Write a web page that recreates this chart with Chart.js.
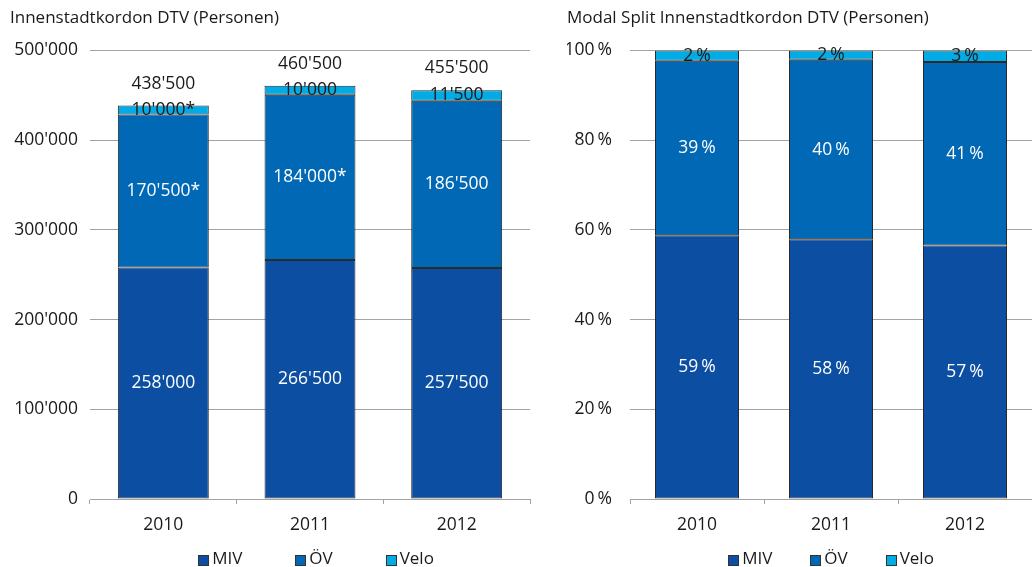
<!DOCTYPE html>
<html>
<head>
<meta charset="utf-8">
<script src="https://cdn.jsdelivr.net/npm/chart.js@4.4.1/dist/chart.umd.min.js"></script>
<style>
  body { margin: 0; background: #fff; }
  #wrap { position: relative; width: 1032px; height: 567px; font-family: "Open Sans", sans-serif; }
  .box { position: absolute; top: 0; height: 567px; }
  .legend { position: absolute; top: 545px; height: 24px; display: flex; justify-content: center; align-items: center; font-size: 17px; color: #1a1a1a; }
  .legend span.sw { display: inline-block; width: 9px; height: 9px; border: 1px solid #333; margin-right: 3px; position: relative; top: 2px; }
</style>
</head>
<body>
<div id="wrap">
  <div class="box" style="left:0;width:540px"><canvas id="chartLeft"></canvas></div>
  <div class="box" style="left:557px;width:475px"><canvas id="chartRight"></canvas></div>
  <div class="legend" id="legendLeft" style="left:96px;width:440px;gap:53px"></div>
  <div class="legend" id="legendRight" style="left:630px;width:402px;gap:38px"></div>
</div>
<script>
var years = ['2010', '2011', '2012'];
var seriesNames = ['MIV', 'ÖV', 'Velo'];
var seriesColors = ['#0b4ea2', '#0068b4', '#00abe6'];

// Personen pro Tag
var miv = [258000, 266500, 257500];
var oev = [170500, 184000, 186500];
var velo = [10000, 10000, 11500];
var totals = [438500, 460500, 455500];
// * = Schätzwert
var oevStar = [true, true, false];
var veloStar = [true, false, false];

// Modal Split in %
var mivShare = [58.8, 57.9, 56.5];
var oevShare = [38.9, 40.0, 40.9];
var veloShare = [2.3, 2.1, 2.6];

var yTicksLeft = [0, 100000, 200000, 300000, 400000, 500000];
var yTicksRight = [0, 20, 40, 60, 80, 100];

var FONT = '"Open Sans", sans-serif';
var GRID = '#a3a3a3';

function fmt(n) {
  return String(n).replace(/\B(?=(\d{3})+(?!\d))/g, "'");
}
function pct(n) {
  return Math.round(n) + '\u2009%';
}

var barLabels = {
  id: 'barLabels',
  afterDatasetsDraw: function(chart, args, opts) {
    var ctx = chart.ctx;
    ctx.save();
    ctx.font = '17.5px ' + FONT;
    ctx.textAlign = 'center';
    ctx.textBaseline = 'middle';
    chart.data.datasets.forEach(function(ds, i) {
      chart.getDatasetMeta(i).data.forEach(function(bar, j) {
        ctx.fillStyle = ds.labelColor;
        ctx.fillText(ds.labelText[j], bar.x, (bar.y + bar.base) / 2);
      });
    });
    if (opts.totals) {
      var last = chart.getDatasetMeta(chart.data.datasets.length - 1).data;
      ctx.fillStyle = '#1a1a1a';
      last.forEach(function(bar, j) {
        ctx.fillText(opts.totals[j], bar.x, bar.y - 22);
      });
    }
    ctx.restore();
  }
};

function makeDatasets(values, texts) {
  return values.map(function(v, i) {
    return {
      label: seriesNames[i],
      data: v,
      backgroundColor: seriesColors[i],
      borderColor: '#2a2a2a',
      borderWidth: 1,
      borderSkipped: false,
      labelText: texts[i],
      labelColor: i < 2 ? '#ffffff' : '#1a1a1a'
    };
  });
}

function makeChart(id, datasets, opt) {
  return new Chart(document.getElementById(id), {
    type: 'bar',
    data: { labels: years, datasets: datasets },
    plugins: [barLabels],
    options: {
      animation: false,
      responsive: true,
      maintainAspectRatio: false,
      barPercentage: opt.barPct,
      categoryPercentage: 1,
      layout: { padding: { left: 10, right: opt.padRight, top: 0, bottom: 20 } },
      plugins: {
        legend: { display: false },
        tooltip: { enabled: false },
        title: {
          display: true,
          text: opt.title,
          align: 'start',
          color: '#1a1a1a',
          font: { family: FONT, size: 17, weight: 'normal' },
          padding: { top: 8, bottom: 22 }
        },
        barLabels: { totals: opt.totals }
      },
      scales: {
        x: {
          stacked: true,
          grid: { offset: true, drawOnChartArea: false, drawTicks: true, tickLength: 5, color: GRID },
          border: { display: true, color: GRID, width: 1 },
          ticks: { color: '#1a1a1a', padding: 11, font: { family: FONT, size: 17.5 } }
        },
        y: {
          stacked: true,
          min: 0,
          max: opt.max,
          afterBuildTicks: function(scale) {
            scale.ticks = opt.ticks.map(function(v) { return { value: v }; });
          },
          afterFit: function(scale) { scale.width = opt.axisWidth; },
          grid: { color: GRID, lineWidth: 1, drawTicks: false },
          border: { display: false },
          ticks: {
            color: '#1a1a1a',
            padding: opt.tickPad,
            font: { family: FONT, size: 17.5 },
            callback: opt.tickFmt
          }
        }
      }
    }
  });
}

makeChart('chartLeft', makeDatasets(
  [miv, oev, velo],
  [
    miv.map(fmt),
    oev.map(function(v, i) { return fmt(v) + (oevStar[i] ? '*' : ''); }),
    velo.map(function(v, i) { return fmt(v) + (veloStar[i] ? '*' : ''); })
  ]), {
  title: 'Innenstadtkordon DTV (Personen)',
  max: 500000, ticks: yTicksLeft, tickFmt: fmt,
  axisWidth: 80, tickPad: 12, padRight: 10, barPct: 0.62,
  totals: totals.map(fmt)
});

makeChart('chartRight', makeDatasets(
  [mivShare, oevShare, veloShare],
  [mivShare.map(pct), oevShare.map(pct), veloShare.map(pct)]), {
  title: 'Modal Split Innenstadtkordon DTV (Personen)',
  max: 100, ticks: yTicksRight, tickFmt: function(v) { return v + '\u2009%'; },
  axisWidth: 63, tickPad: 18, padRight: 0, barPct: 0.627,
  totals: null
});

function buildLegend(id) {
  var el = document.getElementById(id);
  seriesNames.forEach(function(name, i) {
    var item = document.createElement('div');
    var sw = document.createElement('span');
    sw.className = 'sw';
    sw.style.background = seriesColors[i];
    item.appendChild(sw);
    item.appendChild(document.createTextNode(name));
    el.appendChild(item);
  });
}
buildLegend('legendLeft');
buildLegend('legendRight');
</script>
</body>
</html>
